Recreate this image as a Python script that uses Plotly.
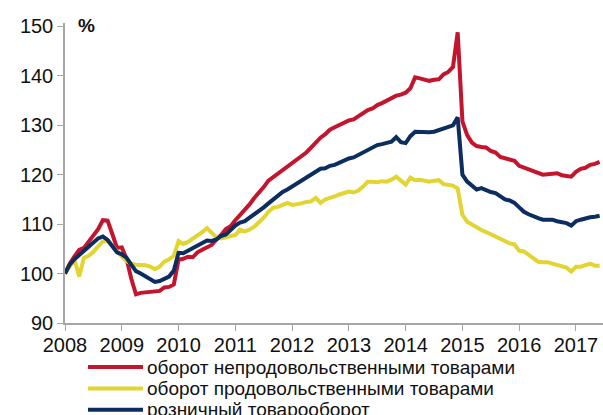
import plotly.graph_objects as go

start_year = 2008
years = list(range(2008, 2018))
year_labels = [str(y) for y in years]
y_ticks = [90, 100, 110, 120, 130, 140, 150]

series_names = [
    "оборот непродовольственными товарами",
    "оборот продовольственными товарами",
    "розничный товарооборот",
]

# monthly index values, Jan 2008 - Jun 2017
nonfood = [
    100, 102, 103.5, 104.8, 105.2, 106.5, 107.9, 109, 110.8, 110.7, 108.0, 105.2,
    105.3, 103, 99, 95.8, 96.1, 96.2, 96.3, 96.3, 96.5, 97.2, 97.3, 97.8,
    102.8, 103.0, 103.4, 103.3, 104.3, 104.8, 105.4, 105.8, 106.9, 107.8, 109, 109.6,
    110.8, 111.8, 112.8, 114, 115.3, 116.3, 117.5, 118.8, 119.5, 120.2, 121, 121.7,
    122.3, 123, 123.7, 124.5, 125.5, 126.5, 127.5, 128.2, 129.1, 129.6, 130.1, 130.5,
    131, 131.2, 131.8, 132.5, 133.1, 133.4, 134.1, 134.5, 135, 135.5, 136, 136.2,
    136.6, 137.5, 139.7, 139.5, 139.2, 139, 139.2, 139.3, 140.3, 140.8, 141.8, 148.8,
    130.8, 128, 126.5, 125.8, 125.6, 125.5, 124.8, 124.5, 123.6, 123.3, 123.2, 122.8,
    121.8, 121.4, 121, 120.7, 120.4, 120, 120.1, 120.3, 120.3, 119.9, 119.7, 119.6,
    120.6, 121.2, 121.4, 122, 122.2, 122.6,
]

food = [
    100, 101.5, 102.8, 99.4, 103.2, 103.6, 104.4, 105.5, 106.5, 106.6, 105.5, 104.3,
    103.5, 102.5, 102, 101.8, 101.8, 101.7, 101.4, 100.9, 101.4, 102.4, 102.9, 103.6,
    106.6, 106, 106.4, 107, 107.8, 108.4, 109.2, 108.3, 107.3, 107.1, 107.3, 107.4,
    107.8, 108.9, 108.5, 108.9, 109.5, 110.4, 111.3, 112.5, 113.3, 113.5, 113.8, 114.3,
    113.9, 114, 114.2, 114.5, 114.6, 115.3, 114.3, 115, 115.2, 115.6, 116, 116.4,
    116.6, 116.4, 116.8, 117.6, 118.6, 118.6, 118.5, 118.7, 118.6, 119, 119.6, 118.8,
    118, 119.4, 118.9, 119, 118.8, 118.6, 118.8, 118.9, 118.1, 118, 117.8, 117.2,
    111.9, 110.5, 109.9, 109.2, 108.8, 108.4, 107.9, 107.5, 107, 106.5, 106.1, 105.9,
    104.6, 104.5, 103.8, 103, 102.4, 102.3, 102.3, 102, 101.7, 101.5, 101.2, 100.4,
    101.4, 101.4, 101.8, 102, 101.6, 101.6,
]

total = [
    100, 101.8, 102.9, 103.8, 104.6, 105.4, 106.3, 107.1, 107.5, 106.8, 105.5, 104.3,
    103.9, 103.2, 101.8, 100.5, 100, 99.4, 98.8, 98.3, 98.5, 99, 99.4, 100.6,
    104.2, 104.1, 104.6, 105.2, 105.8, 106.2, 106.7, 106.6, 106.9, 107.6, 107.9, 108.8,
    109.7, 110.3, 110.6, 111.3, 112, 112.5, 113.4, 114.2, 115, 115.8, 116.5, 117,
    117.6, 118, 118.6, 119.2, 119.8, 120.6, 121.2, 121.3, 121.8, 122, 122.4, 123,
    123.3, 123.5, 124, 124.5, 125, 125.6, 126, 126.2, 126.4, 126.7, 127.6, 126.6,
    126.4, 127.8, 128.7, 128.6, 128.5, 128.6, 128.7, 129, 129.2, 129.6, 130, 131.6,
    120, 118.6, 117.8, 117, 117.3, 116.8, 116.5, 116.3, 115.7, 115, 114.8, 114.3,
    113.4, 112.5, 112, 111.5, 111.2, 110.9, 110.9, 110.9, 110.6, 110.5, 110.2, 109.7,
    110.6, 110.9, 111.2, 111.4, 111.5, 111.7,
]

x = [start_year + i / 12 for i in range(len(total))]

colors = ["#C3152D", "#E2D431", "#0B2D5F"]

fig = go.Figure()
for name, vals, c in zip(series_names, [nonfood, food, total], colors):
    fig.add_trace(go.Scatter(x=x, y=vals, mode="lines", name=name,
                             line=dict(color=c, width=4)))

font_family = "Liberation Sans, Arial, sans-serif"
W, H = 603, 415
ml, mr, mt, mb = 65, 0, 23, 92
plot_w = W - ml - mr
plot_h = H - mt - mb

fig.update_layout(
    width=W, height=H,
    margin=dict(l=ml, r=mr, t=mt, b=mb, autoexpand=False),
    paper_bgcolor="white", plot_bgcolor="white",
    font=dict(family=font_family, size=20, color="#111111"),
    showlegend=False,
    xaxis=dict(range=[2008, 2017.476], tickvals=years, ticktext=year_labels,
               showgrid=False, zeroline=False, showline=True, linecolor="#A6A6A6",
               linewidth=1.5, ticks="outside", ticklen=6, tickcolor="#A6A6A6",
               tickfont=dict(size=20), ticklabelstandoff=-3),
    yaxis=dict(range=[90, 150.7], tickvals=y_ticks, showgrid=False, zeroline=False,
               showline=True, linecolor="#A6A6A6", linewidth=1.5, ticks="outside",
               ticklen=6, tickcolor="#A6A6A6", tickfont=dict(size=20)),
)

# "%" unit label
fig.add_annotation(text="<b>%</b>", xref="paper", yref="paper",
                   x=(76 - ml) / plot_w, y=(H - mb - 25.5) / plot_h,
                   xanchor="left", yanchor="middle", showarrow=False,
                   font=dict(size=19, color="#111111"))

# legend below the chart
row_px = [367, 388.4, 409.8]
for name, c, ry in zip(series_names, colors, row_px):
    yp = (H - mb - ry) / plot_h
    fig.add_shape(type="line", xref="paper", yref="paper",
                  x0=(88 - ml) / plot_w, x1=(143 - ml) / plot_w, y0=yp, y1=yp,
                  line=dict(color=c, width=4))
    fig.add_annotation(text=name, xref="paper", yref="paper",
                       x=(146 - ml) / plot_w, y=yp, xanchor="left", yanchor="middle",
                       showarrow=False, borderpad=0,
                       font=dict(size=19, color="#111111"))

fig.write_html("out.html", config={"displayModeBar": False},
               post_script="document.body.style.margin='0px';document.body.style.overflow='hidden';")
